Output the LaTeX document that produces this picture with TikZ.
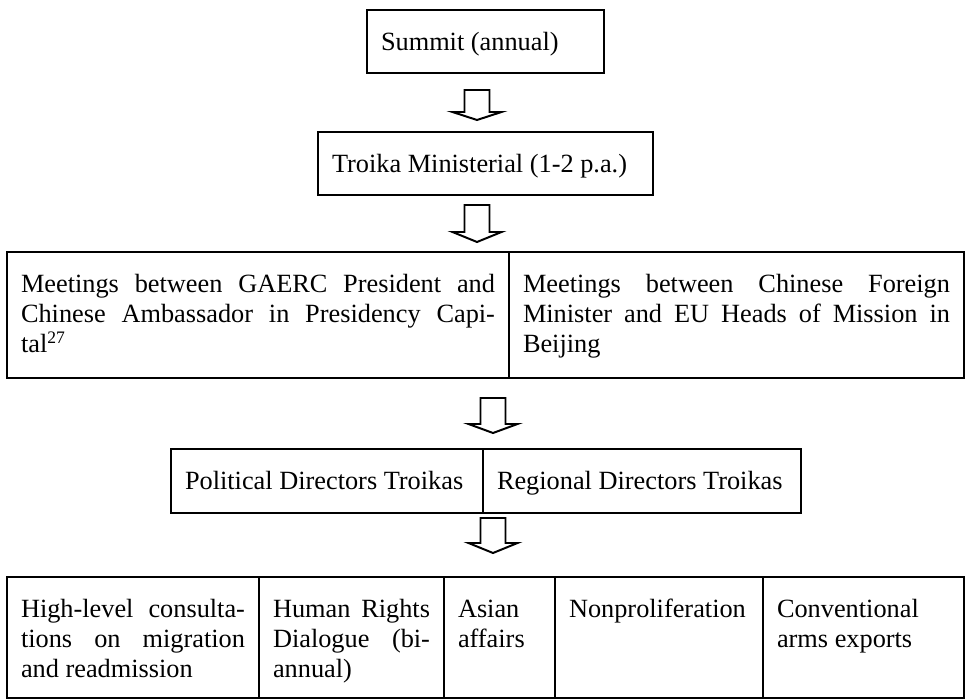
\documentclass[tikz,border=0pt]{standalone}
\usepackage{fontspec}
\setmainfont{Liberation Serif}
\usetikzlibrary{positioning}
\newlength\unitpx
\setlength\unitpx{0.456pt}
% text of a table cell: width and height of the cell in px, then the text
\newcommand{\celltext}[3]{\parbox[t][\dimexpr#2\unitpx-38\unitpx\relax][t]{\dimexpr#1\unitpx-28\unitpx\relax}{\strut#3}}
\tikzstyle{cell}=[draw,line width=1.1pt,anchor=north west,inner xsep=14*\unitpx,inner ysep=19*\unitpx,outer sep=0pt,font=\fontsize{12}{13.8}\selectfont]
\tikzstyle{blockarrow}=[draw,line width=0.9pt,fill=white,line join=miter]

\begin{document}
\begin{tikzpicture}[x=0.456pt,y=-0.456pt]
    \useasboundingbox (0,0) rectangle (966,700);
    % top two levels
    \node[cell] (summit) at (367,10) {\celltext{237}{63}{\mbox{Summit (annual)}}};
    \node[cell] (troika) at (318,132) {\celltext{335}{63}{\mbox{Troika Ministerial (1-2 p.a.)}}};

    % meetings
    \node[cell] (gaerc) at (7,252) {\celltext{502}{126}{Meetings between GAERC President and\linebreak Chinese Ambassador in Presidency Capi-\linebreak tal\textsuperscript{27}}};
    \node[cell] (fmin) at (gaerc.north east) {\celltext{455}{126}{Meetings between Chinese Foreign\linebreak Minister and EU Heads of Mission in\linebreak Beijing}};

    % directors troikas
    \node[cell] (poldir) at (171,449) {\celltext{312}{64}{\mbox{Political Directors Troikas}}};
    \node[cell] (regdir) at (poldir.north east) {\celltext{318}{64}{\mbox{Regional Directors Troikas}}};

    % working level, left to right
    \node[cell] (migr) at (7,577) {\celltext{252}{121}{High-level consulta-\linebreak tions on migration\linebreak and readmission}};
    \foreach \name/\prev/\w/\txt in {hrd/migr/185/{Human Rights\linebreak Dialogue (bi-\linebreak annual)}, asia/hrd/111/{Asian\\ affairs}, nonpro/asia/208/{\mbox{Nonproliferation}}, arms/nonpro/201/{Conventional\\ arms exports}}
        \node[cell] (\name) at (\prev.north east) {\celltext{\w}{121}{\txt}};

    % block arrows between the levels
    \foreach \name/\cx/\top/\len/\head in {arrA/477/90/22/8, arrB/477/205/27/10, arrC/493/398/26/9, arrD/493/518/25/10}{
        \coordinate (\name) at (\cx,\top);
        \draw[blockarrow] (\name) ++(-12.5,0) -- ++(25,0) -- ++(0,\len) -- ++(12,0) -- ++(-24.5,\head) -- ++(-24.5,-\head) -- ++(12,0) -- cycle;
    }
\end{tikzpicture}
\end{document}
